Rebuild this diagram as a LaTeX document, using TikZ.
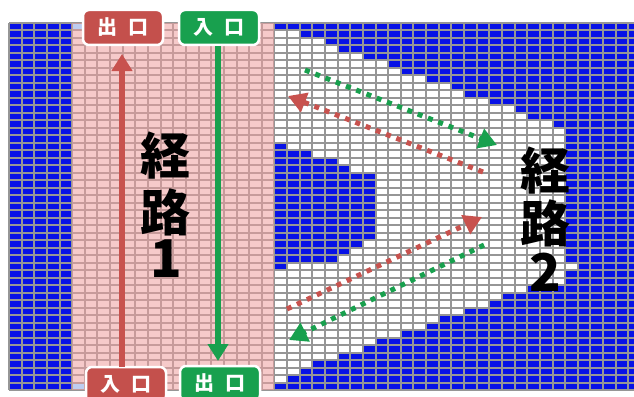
\documentclass[tikz,border=0pt]{standalone}
\usepackage{fontspec}
\newfontfamily\cjk{Noto Sans CJK JP}
\usetikzlibrary{arrows.meta}
\definecolor{gblue}{RGB}{8,18,230}
\definecolor{glines}{RGB}{150,150,150}
\definecolor{rpink}{RGB}{240,160,160}
\definecolor{rred}{RGB}{196,80,76}
\definecolor{ggreen}{RGB}{24,160,78}
\definecolor{rarrow}{RGB}{200,82,78}
\definecolor{paleblue}{RGB}{190,205,240}
\tikzset{
  gate/.style={rounded corners=6pt, draw=white, line width=2.5pt, minimum width=80pt, minimum height=35pt, inner sep=0pt, text=white, font=\cjk\bfseries\fontsize{20}{20}\selectfont},
  biglbl/.style={inner sep=0pt, text=black, font=\cjk\bfseries\fontsize{50}{50}\selectfont},
  diglbl/.style={inner sep=0pt, text=black, font=\cjk\bfseries\fontsize{52}{52}\selectfont},
  solidarrow/.style={line width=5.5pt, -{Triangle[length=17pt,width=20pt]}},
  dotarrow/.style={line width=5pt, dash pattern=on 5pt off 6pt, -{Triangle[length=18pt,width=20pt]}}
}
\begin{document}
\begin{tikzpicture}[x=1pt,y=-1pt]
\useasboundingbox (0,0) rectangle (634,396);
\clip (0,0) rectangle (634,396);
\fill[white] (0,0) rectangle (634,396);
% base grid: blue
\fill[gblue] (9,23) rectangle (640,390);
% cells under the pink band
\fill[white] (72.2,23) rectangle (274.4,390);
% white region of route 2
\foreach \r/\b in {1/23,2/25,3/26,4/28,5/30,6/31,7/33,8/35,9/36,10/38,11/40,12/41,13/43,32/45,35/41,36/39,37/38,38/36,39/34,40/33,41/31,42/29,43/28,44/26,45/24,46/23,47/22}
  \fill[white] (274.4,{23+7.49*\r}) rectangle ({9+12.64*\b},{23+7.49*(\r+1)});
\fill[white] (274.4,{23+7.49*14}) rectangle ({9+12.64*44},{23+7.49*35});
% inner blue block
\foreach \r/\e in {16/21,17/23,18/25,19/26,20/28,21/28,22/28,23/28,24/28,25/28,26/28,27/28,28/28,29/27,30/26,31/25,32/21}
  \fill[gblue] (274.4,{23+7.49*\r}) rectangle ({9+12.64*(\e+1)},{23+7.49*(\r+1)});
% grid lines
\foreach \c in {0,...,50}
  \draw[glines, line width=2pt] ({9+12.64*\c},23) -- ({9+12.64*\c},390);
\foreach \r in {0,...,49}
  \draw[glines, line width=2pt] (9,{23+7.49*\r}) -- (640,{23+7.49*\r});
% pink band
\fill[rpink, opacity=0.55] (72.2,23) rectangle (274.4,390);
\fill[paleblue] (73.3,24) rectangle (83.7,29.5);
\fill[paleblue] (73.3,{23+7.49*48+1}) rectangle (83.7,{23+7.49*49-1});
% labels
\node[biglbl] (r1a) at (165,156) {経};
\node[biglbl] (r1b) at (165,212) {路};
\node[diglbl] (r1c) at (166,259) {1};
\node[biglbl] (r2a) at (545,171) {経};
\node[biglbl] (r2b) at (545,223) {路};
\node[diglbl] (r2c) at (545,272) {2};
% gates
\node[gate, fill=rred] (out1) at (123,27.5) {出\hspace{0.55em}口};
\node[gate, fill=ggreen] (in2) at (219,27.5) {入\hspace{0.55em}口};
\node[gate, fill=rred] (in1) at (126,384.5) {入\hspace{0.55em}口};
\node[gate, fill=ggreen] (out2) at (220,383.5) {出\hspace{0.55em}口};
% route 1 arrows
\coordinate (ra) at (122,367);
\coordinate (rb) at (122,54);
\coordinate (ga) at (218,46);
\coordinate (gb) at (218,361);
\draw[rarrow, solidarrow] (ra) -- (rb);
\draw[ggreen, solidarrow] (ga) -- (gb);
% route 2 dotted arrows
\coordinate (d1s) at (305,70);
\coordinate (d1e) at (497,145);
\coordinate (d2s) at (483,172);
\coordinate (d2e) at (288,96);
\coordinate (d3s) at (287,309);
\coordinate (d3e) at (482,217);
\coordinate (d4s) at (484,245);
\coordinate (d4e) at (289,340);
\draw[ggreen, dotarrow] (d1s) -- (d1e);
\draw[rarrow, dotarrow] (d2s) -- (d2e);
\draw[rarrow, dotarrow] (d3s) -- (d3e);
\draw[ggreen, dotarrow] (d4s) -- (d4e);
\end{tikzpicture}
\end{document}
